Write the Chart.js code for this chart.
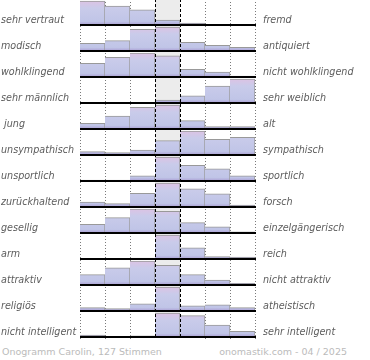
<!doctype html>
<html lang="de">

<head>
    <meta charset="utf-8">
    <title>Onogramm Carolin</title>
    <script src="https://cdn.jsdelivr.net/npm/chart.js"></script>
    <style>
        body {
            margin: 0;
            background: #ffffff;
            overflow: hidden;
            font-family: "DejaVu Sans", sans-serif;
        }

        .wrap {
            position: absolute;
            left: 0;
            top: -1px;
            width: 370px;
            height: 345px;
        }

        .fuss {
            position: absolute;
            top: 346px;
            font-size: 9.5px;
            line-height: 12px;
            color: #bbbbbb;
        }
    </style>
</head>

<body>
    <div class="wrap"><canvas id="chart"></canvas></div>
    <div class="fuss" style="left: 2px;">Onogramm Carolin, 127 Stimmen</div>
    <div class="fuss" style="right: 23px;">onomastik.com - 04 / 2025</div>

    <script>
        // 7 Stufen von links nach rechts
        const stufen = ['1', '2', '3', '4', '5', '6', '7'];

        const linksLabels = ['sehr vertraut', 'modisch', 'wohlklingend', 'sehr männlich', ' jung', 'unsympathisch',
            'unsportlich', 'zurückhaltend', 'gesellig', 'arm', 'attraktiv', 'religiös', 'nicht intelligent'];
        const rechtsLabels = ['fremd', 'antiquiert', 'nicht wohlklingend', 'sehr weiblich', 'alt', 'sympathisch',
            'sportlich', 'forsch', 'einzelgängerisch', 'reich', 'nicht attraktiv', 'atheistisch', 'sehr intelligent'];

        // Balkenhöhen in % des grössten Balkens der Zeile
        const vertraut = [100, 79, 63, 21, 8, 0, 0];
        const modisch = [32, 43, 90, 100, 36, 24, 15];
        const wohlklingend = [57, 82, 100, 88, 32, 21, 4];
        const maennlich = [0, 0, 0, 12, 30, 71, 100];
        const jung = [24, 54, 90, 100, 35, 10, 10];
        const sympathisch = [14, 10, 20, 60, 100, 65, 74];
        const sportlich = [4, 4, 22, 100, 65, 51, 22];
        const forsch = [20, 14, 57, 100, 76, 55, 8];
        const gesellig = [36, 64, 100, 90, 43, 26, 5];
        const reich = [3, 3, 4, 100, 47, 10, 8];
        const attraktiv = [43, 72, 100, 82, 43, 20, 7];
        const religioes = [14, 10, 30, 100, 22, 26, 14];
        const intelligent = [8, 0, 5, 100, 89, 50, 24];

        const zeilen = [vertraut, modisch, wohlklingend, maennlich, jung, sympathisch, sportlich,
            forsch, gesellig, reich, attraktiv, religioes, intelligent];

        const anteil = 24 / 26; // max. Balkenhöhe pro Zeile

        function verlauf(context) {
            const chart = context.chart;
            if (!chart.chartArea) return '#c5cae8';
            const y = chart.scales.y;
            const i = context.datasetIndex;
            const oben = y.getPixelForValue(i + 1 - anteil);
            const unten = y.getPixelForValue(i + 1);
            const g = chart.ctx.createLinearGradient(0, oben, 0, unten);
            g.addColorStop(0, '#dcc3e4');
            g.addColorStop(0.3, '#c9cbea');
            g.addColorStop(0.85, '#c0c5e7');
            g.addColorStop(0.94, '#b3aedb');
            g.addColorStop(1, '#9c8ccb');
            return g;
        }

        const datasets = zeilen.map((werte, i) => ({
            data: werte.map(v => v > 0 ? [i + 1, i + 1 - anteil * v / 100] : null),
            backgroundColor: verlauf,
            borderColor: '#999999',
            borderWidth: { top: 1, right: 1, bottom: 0, left: 0 },
            borderSkipped: false,
            grouped: false,
            categoryPercentage: 1,
            barPercentage: 1
        }));

        const rahmen = {
            id: 'rahmen',
            beforeDatasetsDraw(chart) {
                const { ctx, chartArea, scales } = chart;
                const x = scales.x;
                const breite = x.getPixelForValue(1) - x.getPixelForValue(0);
                const l = x.getPixelForValue(3) - breite / 2;
                ctx.save();
                ctx.fillStyle = '#ececec';
                ctx.fillRect(l, chartArea.top, breite, chartArea.bottom - chartArea.top);
                ctx.strokeStyle = '#7a7a7a';
                ctx.lineWidth = 1;
                ctx.setLineDash([1, 2]);
                for (let k = 0; k <= stufen.length; k++) {
                    if (k === 3 || k === 4) continue;
                    const px = Math.round(x.getPixelForValue(0) - breite / 2 + k * breite) + 0.5;
                    ctx.beginPath();
                    ctx.moveTo(px, chartArea.top);
                    ctx.lineTo(px, chartArea.bottom + 3);
                    ctx.stroke();
                }
                ctx.restore();
            },
            afterDatasetsDraw(chart) {
                const { ctx, chartArea, scales } = chart;
                const x = scales.x, y = scales.y;
                const breite = x.getPixelForValue(1) - x.getPixelForValue(0);
                ctx.save();
                ctx.strokeStyle = '#000000';
                ctx.lineWidth = 1;
                ctx.setLineDash([3, 2]);
                [3, 4].forEach(k => {
                    const px = Math.round(x.getPixelForValue(0) - breite / 2 + k * breite) + 0.5;
                    ctx.beginPath();
                    ctx.moveTo(px, chartArea.top);
                    ctx.lineTo(px, chartArea.bottom);
                    ctx.stroke();
                });
                ctx.setLineDash([]);
                ctx.lineWidth = 2;
                zeilen.forEach((_, i) => {
                    const py = Math.round(y.getPixelForValue(i + 1));
                    ctx.beginPath();
                    ctx.moveTo(chartArea.left, py);
                    ctx.lineTo(chartArea.right + 1, py);
                    ctx.stroke();
                });

                // Beschriftung links und rechts
                ctx.font = 'italic 9.6px "DejaVu Sans"';
                ctx.fillStyle = '#5c5c5c';
                ctx.textBaseline = 'middle';
                zeilen.forEach((_, i) => {
                    const py = y.getPixelForValue(i + 1) - 5;
                    ctx.textAlign = 'left';
                    ctx.fillText(linksLabels[i], 1, py);
                    ctx.fillText(rechtsLabels[i], chartArea.right + 8, py);
                });
                ctx.restore();
            }
        };

        new Chart(document.getElementById('chart'), {
            type: 'bar',
            data: { labels: stufen, datasets: datasets },
            options: {
                responsive: true,
                maintainAspectRatio: false,
                animation: false,
                layout: { padding: { left: 80, right: 115, top: 0, bottom: 7 } },
                plugins: { legend: { display: false }, tooltip: { enabled: false } },
                scales: {
                    x: { display: false },
                    y: { display: false, min: 0, max: zeilen.length, reverse: true }
                }
            },
            plugins: [rahmen]
        });
    </script>
</body>

</html>
